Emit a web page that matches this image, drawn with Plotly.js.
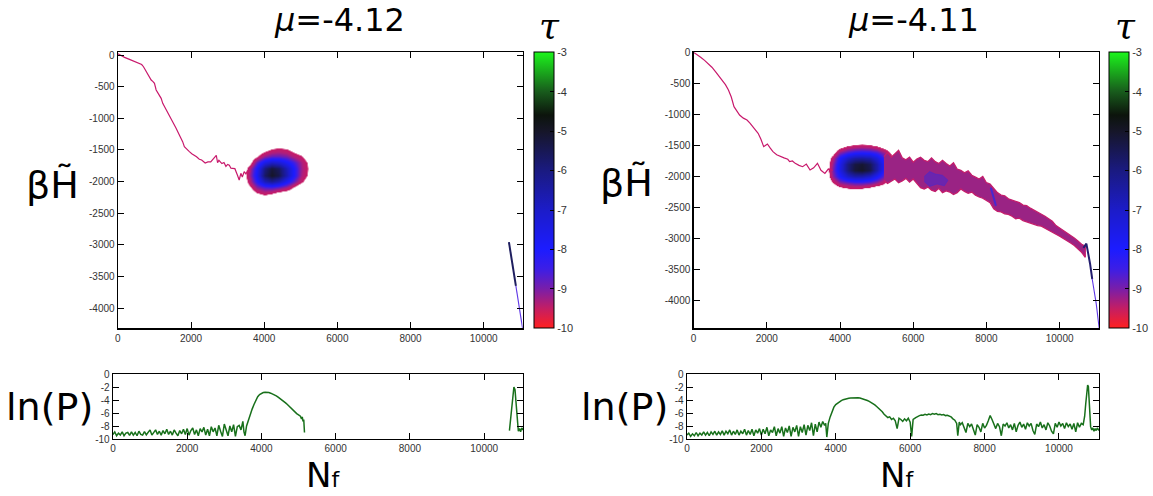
<!DOCTYPE html>
<html><head><meta charset="utf-8">
<script src="https://cdn.plot.ly/plotly-3.0.1.min.js"></script>
<style>html,body{margin:0;padding:0;background:#fff}#chart{width:1153px;height:496px}</style>
</head><body><div id="chart"></div>
<script>
// ---------- tick values / labels ----------
const X_TICKS = [0, 2000, 4000, 6000, 8000, 10000];
const MAIN_Y_TICKS = [0, -500, -1000, -1500, -2000, -2500, -3000, -3500, -4000];
const LNP_Y_TICKS = [0, -2, -4, -6, -8, -10];
const TAU_TICKS = [-3, -4, -5, -6, -7, -8, -9, -10];

// ---------- left panel (mu = -4.12) : trajectory ----------
const TRAJ1_X = [0, 90, 183, 300, 409, 500, 591, 650, 700, 740, 774, 840, 910, 960, 1000, 1046, 1110, 1183, 1226, 1270, 1319, 1390, 1455, 1520, 1591, 1660, 1728, 1770, 1817, 1880, 1954, 2020, 2090, 2150, 2226, 2290, 2386, 2460, 2538, 2600, 2640, 2690, 2725, 2761, 2843, 2900, 2953, 3000, 3046, 3090, 3134, 3198, 3269, 3316, 3362, 3401, 3453, 3500, 3550, 3620];
const TRAJ1_Y = [20, -10, -37, -65, -90, -112, -132, -150, -185, -225, -263, -330, -395, -420, -448, -553, -620, -685, -764, -810, -870, -940, -1001, -1070, -1159, -1240, -1317, -1370, -1450, -1490, -1528, -1560, -1581, -1610, -1649, -1660, -1707, -1690, -1691, -1650, -1622, -1585, -1703, -1664, -1717, -1700, -1760, -1730, -1744, -1790, -1792, -1797, -1902, -1976, -1870, -1929, -1845, -1880, -1830, -1850];
// density blob (tau values on a coarse grid)
const BLOB1_X = [3400, 3600, 3800, 4000, 4200, 4400, 4600, 4800, 5000, 5200, 5400];
const BLOB1_Y = [-1400, -1500, -1600, -1700, -1800, -1900, -2000, -2100, -2200, -2300];
const BLOB1_Z = [
  [-11, -11, -11, -11, -11, -11, -11, -11, -11, -11, -11],
  [-11, -11, -11, -10.5, -10, -9.8, -10, -10.5, -11, -11, -11],
  [-11, -11, -10.2, -9.2, -8.8, -8.8, -9.0, -9.5, -9.9, -10.8, -11],
  [-11, -10.5, -8.8, -7.5, -7.0, -7.2, -7.8, -8.5, -9.3, -10.3, -11],
  [-11, -9.5, -8.0, -6.0, -5.2, -5.6, -6.8, -8.0, -9.2, -10.2, -11],
  [-10.8, -9.3, -7.8, -5.7, -5.0, -5.4, -6.7, -8.0, -9.3, -10.3, -11],
  [-11, -9.6, -8.2, -6.8, -6.3, -6.8, -7.8, -8.8, -9.8, -10.8, -11],
  [-11, -10.3, -9.2, -8.7, -8.6, -8.9, -9.4, -10.2, -11, -11, -11],
  [-11, -11, -10.4, -10.0, -10.3, -10.8, -11, -11, -11, -11, -11],
  [-11, -11, -11, -11, -11, -11, -11, -11, -11, -11, -11]
];
// short branch at large N_f
const END1_DARK_X = [10690, 10880];
const END1_DARK_Y = [-2959, -3650];
const END1_THIN_X = [10880, 11066];
const END1_THIN_Y = [-3650, -4333];

// ---------- right panel (mu = -4.11) ----------
const TRAJ2_X = [0, 60, 193, 300, 395, 500, 598, 700, 800, 870, 952, 1030, 1104, 1180, 1256, 1360, 1459, 1540, 1611, 1690, 1763, 1840, 1915, 1960, 2016, 2090, 2168, 2270, 2371, 2470, 2573, 2624, 2700, 2776, 2880, 2979, 3080, 3182, 3280, 3384, 3480, 3587, 3680, 3800];
const TRAJ2_Y = [0, -30, -81, -130, -177, -240, -311, -390, -472, -520, -607, -720, -875, -950, -1009, -1060, -1090, -1140, -1197, -1250, -1305, -1400, -1519, -1500, -1477, -1540, -1600, -1650, -1681, -1700, -1723, -1761, -1750, -1788, -1820, -1842, -1800, -1895, -1860, -1788, -1900, -1949, -1880, -1900];
const BLOB2_X = [3600, 3800, 4000, 4200, 4400, 4600, 4800, 5000, 5200, 5400, 5600];
const BLOB2_Y = [-1400, -1500, -1600, -1700, -1800, -1900, -2000, -2100, -2200, -2300];
const BLOB2_Z = [
  [-11, -11, -11, -11, -11, -11, -11, -11, -11, -11, -11],
  [-11, -11, -10.8, -10.2, -10.0, -9.9, -10.0, -10.3, -10.8, -11, -11],
  [-11, -10.6, -9.2, -8.6, -8.3, -8.2, -8.3, -8.6, -9.3, -10.4, -11],
  [-11, -9.6, -8.0, -7.0, -6.5, -6.4, -6.6, -7.3, -8.4, -9.8, -11],
  [-11, -9.2, -7.6, -6.0, -5.3, -5.1, -5.5, -6.6, -8.0, -9.6, -10.8],
  [-10.8, -9.0, -7.5, -6.0, -5.2, -5.0, -5.4, -6.6, -8.1, -9.6, -10.8],
  [-11, -9.2, -8.0, -7.0, -6.6, -6.6, -7.0, -7.8, -8.8, -10.0, -11],
  [-11, -10.2, -9.3, -9.0, -8.8, -8.8, -9.0, -9.4, -10.0, -11, -11],
  [-11, -11, -10.6, -10.3, -10.2, -10.3, -10.6, -11, -11, -11, -11],
  [-11, -11, -11, -11, -11, -11, -11, -11, -11, -11, -11]
];
// noisy band after the blob: upper / lower envelope
const BAND2_X = [5200, 5300, 5400, 5500, 5600, 5700, 5800, 5900, 6000, 6100, 6200, 6300, 6400, 6500, 6600, 6700, 6800, 6900, 7000, 7100, 7200, 7300, 7400, 7500, 7600, 7700, 7800, 7900, 8000, 8100, 8200, 8300, 8400, 8500, 8600, 8700, 8800, 8900, 9000, 9100, 9200, 9300, 9400, 9500, 9600, 9700, 9800, 9900, 10000, 10100, 10200, 10300, 10400, 10500, 10600, 10700];
const BAND2_TOP = [-1680, -1610, -1690, -1640, -1580, -1700, -1730, -1690, -1770, -1720, -1690, -1740, -1760, -1700, -1760, -1790, -1740, -1790, -1830, -1780, -1880, -1900, -1940, -1910, -1980, -2010, -2040, -2000, -2100, -2120, -2200, -2260, -2300, -2310, -2360, -2380, -2410, -2420, -2460, -2470, -2510, -2540, -2570, -2600, -2640, -2680, -2720, -2790, -2830, -2860, -2900, -2950, -2990, -3040, -3090, -3120];
const BAND2_BOT = [-2060, -2110, -2080, -2040, -2100, -2070, -2030, -2090, -2040, -2110, -2180, -2200, -2170, -2220, -2240, -2190, -2260, -2230, -2250, -2290, -2260, -2200, -2240, -2270, -2250, -2300, -2330, -2350, -2380, -2420, -2520, -2560, -2570, -2600, -2610, -2640, -2680, -2670, -2710, -2730, -2740, -2770, -2790, -2800, -2830, -2870, -2900, -2930, -2960, -2990, -3030, -3070, -3110, -3160, -3220, -3300];
const PATCH2_X = [6300, 6450, 6600, 6800, 6950, 6850, 6650, 6450, 6300];
const PATCH2_Y = [-2000, -1920, -1960, -1980, -2060, -2150, -2120, -2160, -2080];
const STREAK2_X = [8120, 8200, 8260];
const STREAK2_Y = [-2180, -2350, -2470];
const END2_DARK_X = [10650, 10730, 10830, 10890];
const END2_DARK_Y = [-3150, -3080, -3400, -3650];
const END2_THIN_X = [10890, 11000, 11080];
const END2_THIN_Y = [-3650, -4050, -4444];

// ---------- ln(P) curves ----------
const LNP1_X = [0,50,100,150,200,250,300,350,400,450,500,550,600,650,700,750,800,850,900,950,1000,1050,1100,1150,1200,1250,1300,1350,1400,1450,1500,1550,1600,1650,1700,1750,1800,1850,1900,1950,2000,2050,2100,2150,2200,2250,2300,2350,2400,2450,2500,2550,2600,2650,2700,2750,2800,2850,2900,2950,3000,3050,3100,3150,3200,3250,3300,3350,3400,3450,3500,3530,3560,3600,3650,3700,3750,3800,3850,3900,3950,4000,4050,4100,4150,4200,4250,4300,4350,4400,4450,4500,4550,4600,4650,4700,4750,4800,4850,4900,4950,5000,5050,5080,5100,5120,5140,5160,
  7000,
  10680,10720,10750,10780,10800,10830,10860,10890,10920,10950,10980,11010,11040,11070];
const LNP1_Y = [-9.3,-8.9,-9.5,-9.1,-9.4,-8.9,-9.5,-9.1,-9.0,-9.45,-8.9,-9.4,-9.0,-9.5,-8.8,-9.3,-9.4,-8.85,-9.35,-8.9,-8.6,-9.4,-8.9,-8.6,-9.3,-8.8,-9.4,-8.7,-9.2,-8.5,-9.3,-8.8,-9.4,-8.6,-9.1,-9.5,-8.7,-9.2,-8.5,-9.3,-8.4,-9.4,-8.7,-8.3,-9.3,-8.6,-9.5,-8.4,-8.9,-8.2,-9.4,-8.5,-9.5,-8.1,-8.9,-8.3,-9.5,-7.9,-8.8,-9.6,-7.7,-8.7,-9.5,-8.0,-8.9,-7.8,-9.6,-8.1,-7.9,-8.6,-7.3,-8.9,-9.5,-8.0,-7.0,-6.2,-5.4,-4.7,-4.0,-3.5,-3.15,-2.95,-2.85,-2.8,-2.8,-2.85,-2.95,-3.05,-3.2,-3.35,-3.55,-3.75,-3.95,-4.2,-4.45,-4.7,-5.0,-5.3,-5.65,-5.95,-6.1,-6.3,-6.5,-6.9,-6.6,-7.3,-7.0,-9.0,
  null,
  -8.7,-6.5,-4.0,-2.3,-2.0,-2.4,-4.5,-7.5,-8.8,-8.4,-8.9,-8.3,-8.6,-8.2];

const LNP2_X = [0,50,100,150,200,250,300,350,400,450,500,550,600,650,700,750,800,850,900,950,1000,1050,1100,1150,1200,1250,1300,1350,1400,1450,1500,1550,1600,1650,1700,1750,1800,1850,1900,1950,2000,2050,2100,2150,2200,2250,2300,2350,2400,2450,2500,2550,2600,2650,2700,2750,2800,2850,2900,2950,3000,3050,3100,3150,3200,3250,3300,3350,3400,3450,3500,3550,3600,3650,3700,3730,3760,
  3800,3850,3900,3950,4000,4050,4100,4150,4200,4250,4300,4350,4400,4450,4500,4550,4600,4650,4700,4750,4800,4850,4900,4950,5000,5050,5100,5150,5200,5250,5300,5350,5400,5450,5500,5550,5600,5650,5700,5750,5800,5850,5900,5950,6000,6040,6080,6150,6200,6250,6300,6350,6400,6450,6500,6550,6600,6650,6700,6750,6800,6850,6900,6950,7000,7050,7100,7150,7200,7250,7280,7320,7350,
  7400,7450,7500,7550,7600,7650,7700,7750,7800,7850,7900,7950,8000,8050,8100,8150,8200,8250,8300,8350,8400,8450,8500,8550,8600,8650,8700,8750,8800,8850,8900,8950,9000,9050,9100,9150,9200,9250,9300,9350,9400,9450,9500,9550,9600,9650,9700,9750,9800,9850,9900,9950,10000,10050,10100,10150,10200,10250,10300,10350,10400,10450,10500,10550,10600,10650,
  10690,10720,10740,10770,10790,10810,10830,10850,10880,10910,10940,10970,11000,11030,11060,11080];
const LNP2_Y = [-9.4,-9.1,-9.6,-9.2,-9.5,-9.0,-9.5,-9.1,-9.4,-8.9,-9.4,-9.0,-9.5,-8.9,-9.3,-8.8,-9.4,-8.9,-9.3,-8.75,-9.4,-8.8,-9.2,-8.6,-9.4,-8.8,-9.3,-8.6,-9.4,-8.8,-9.2,-8.5,-9.4,-8.7,-9.3,-8.5,-9.5,-8.6,-9.1,-8.4,-9.4,-8.5,-9.2,-8.2,-9.5,-8.6,-9.0,-8.1,-9.5,-8.4,-9.1,-8.1,-9.6,-8.3,-9.0,-8.0,-9.6,-8.2,-8.9,-7.9,-9.6,-8.1,-9.0,-7.8,-9.4,-7.9,-8.7,-7.5,-9.5,-7.7,-8.9,-7.4,-8.2,-7.3,-7.9,-7.6,-9.7,
  -7.6,-6.6,-5.7,-5.1,-4.7,-4.45,-4.25,-4.1,-3.95,-3.85,-3.78,-3.72,-3.68,-3.65,-3.63,-3.63,-3.65,-3.68,-3.75,-3.85,-3.95,-4.07,-4.2,-4.35,-4.55,-4.75,-5.0,-5.25,-5.5,-5.8,-6.2,-6.5,-6.7,-6.6,-7.0,-6.8,-7.2,-8.4,-6.8,-7.0,-7.3,-6.9,-7.2,-6.8,-7.4,-9.6,-7.0,-6.7,-6.5,-6.4,-6.3,-6.35,-6.2,-6.3,-6.15,-6.25,-6.1,-6.2,-6.1,-6.25,-6.2,-6.3,-6.25,-6.4,-6.35,-6.5,-6.6,-6.9,-7.1,-7.6,-9.5,-7.4,-7.8,
  -7.5,-8.2,-9.0,-7.6,-8.1,-7.7,-8.4,-9.4,-7.8,-8.2,-8.9,-7.6,-8.3,-7.9,-7.2,-6.4,-7.0,-7.8,-8.4,-7.6,-8.1,-9.5,-7.7,-8.0,-7.5,-8.3,-7.8,-8.6,-7.6,-8.9,-7.9,-7.4,-8.2,-7.7,-8.5,-7.5,-8.0,-7.6,-8.7,-9.3,-7.7,-8.1,-7.4,-8.3,-7.8,-8.6,-7.5,-8.0,-8.8,-9.2,-7.6,-8.2,-7.4,-8.0,-7.6,-8.4,-7.5,-8.1,-7.7,-8.5,-7.6,-8.9,-7.5,-8.2,-7.6,-7.8,
  -6.5,-4.5,-2.8,-1.7,-1.9,-3.5,-6.0,-8.1,-8.6,-8.3,-8.8,-8.4,-8.7,-8.3,-8.6,-8.5];

// ---------- colours ----------
const TAU_SCALE = [
  [0, 'rgb(255,32,32)'], [0.0714, 'rgb(195,30,100)'], [0.1429, 'rgb(120,30,170)'],
  [0.2143, 'rgb(60,30,230)'], [0.2857, 'rgb(28,28,255)'], [0.4286, 'rgb(28,28,200)'],
  [0.5714, 'rgb(26,26,128)'], [0.7143, 'rgb(22,22,40)'], [0.7714, 'rgb(12,20,12)'],
  [0.8571, 'rgb(24,92,28)'], [1, 'rgb(28,245,28)']
];
const BLOB_SCALE = [
  [0, 'rgba(200,24,100,0)'], [0.108, 'rgba(200,24,100,0)'], [0.118, 'rgb(200,26,100)'],
  [0.1875, 'rgb(180,30,120)'], [0.25, 'rgb(120,30,170)'], [0.3125, 'rgb(60,30,230)'],
  [0.375, 'rgb(28,28,255)'], [0.5, 'rgb(28,28,200)'], [0.625, 'rgb(26,26,128)'],
  [0.75, 'rgb(22,22,40)'], [0.8, 'rgb(12,20,12)'], [0.875, 'rgb(24,92,28)'], [1, 'rgb(28,245,28)']
];
const TRAJ_COLOR = '#c8196c';
const LNP_COLOR = '#18701b';

// ---------- helpers ----------
const W = 1153, H = 496;
const px = v => v / W;
const py = v => 1 - v / H;
const TICKFONT = {family: 'Liberation Sans, Arial, sans-serif', size: 10, color: '#333'};
function axis(extra) {
  return Object.assign({
    showline: true, linecolor: '#000', linewidth: 1.3, mirror: 'allticks',
    ticks: 'inside', ticklen: 6, tickwidth: 1, tickcolor: '#000',
    showgrid: false, zeroline: false, tickfont: TICKFONT, fixedrange: true
  }, extra);
}
const txt = a => a.map(v => String(v));

const traces = [];
function mainPanel(xa, ya, trajX, trajY, bx, by, bz, cbX) {
  traces.push({type: 'heatmap', x: bx, y: by, z: bz, zsmooth: 'best', zmin: -11, zmax: -3,
    colorscale: BLOB_SCALE, showscale: false, hoverinfo: 'skip', xaxis: xa, yaxis: ya});
  traces.push({type: 'scatter', mode: 'lines', x: trajX, y: trajY, xaxis: xa, yaxis: ya,
    line: {color: TRAJ_COLOR, width: 1.2}, hoverinfo: 'skip', showlegend: false});
  traces.push({type: 'scatter', mode: 'markers', x: [null], y: [null], xaxis: xa, yaxis: ya,
    showlegend: false, hoverinfo: 'skip',
    marker: {color: [-10], cmin: -10, cmax: -3, colorscale: TAU_SCALE, showscale: true,
      colorbar: {x: px(cbX), xanchor: 'left', xpad: 0, ypad: 0, thickness: 20,
        lenmode: 'pixels', len: 276, y: py(190.3), yanchor: 'middle',
        outlinewidth: 1, outlinecolor: '#000',
        tickvals: TAU_TICKS, ticktext: txt(TAU_TICKS), ticks: 'inside', ticklen: 4,
        tickcolor: '#000', tickfont: {family: 'Liberation Sans, Arial, sans-serif', size: 11, color: '#333'}}}});
}
mainPanel('x', 'y', TRAJ1_X, TRAJ1_Y, BLOB1_X, BLOB1_Y, BLOB1_Z, 535.8);
mainPanel('x2', 'y2', TRAJ2_X, TRAJ2_Y, BLOB2_X, BLOB2_Y, BLOB2_Z, 1113);

// left branch near the end
traces.push({type: 'scatter', mode: 'lines', x: END1_DARK_X, y: END1_DARK_Y, xaxis: 'x', yaxis: 'y',
  line: {color: 'rgb(30,30,95)', width: 2}, hoverinfo: 'skip', showlegend: false});
traces.push({type: 'scatter', mode: 'lines', x: END1_THIN_X, y: END1_THIN_Y, xaxis: 'x', yaxis: 'y',
  line: {color: 'rgb(95,55,230)', width: 1.1}, hoverinfo: 'skip', showlegend: false});
// right band
traces.push({type: 'scatter', mode: 'lines', fill: 'toself', xaxis: 'x2', yaxis: 'y2',
  x: BAND2_X.concat(BAND2_X.slice().reverse()), y: BAND2_TOP.concat(BAND2_BOT.slice().reverse()),
  line: {color: '#c41e6c', width: 1.3}, fillcolor: '#9a2384', hoverinfo: 'skip', showlegend: false});
traces.push({type: 'scatter', mode: 'lines', fill: 'toself', xaxis: 'x2', yaxis: 'y2',
  x: PATCH2_X, y: PATCH2_Y, line: {color: 'rgba(70,40,210,0.5)', width: 1},
  fillcolor: 'rgba(70,40,210,0.55)', hoverinfo: 'skip', showlegend: false});
traces.push({type: 'scatter', mode: 'lines', x: STREAK2_X, y: STREAK2_Y, xaxis: 'x2', yaxis: 'y2',
  line: {color: 'rgb(70,40,210)', width: 2}, hoverinfo: 'skip', showlegend: false});
traces.push({type: 'scatter', mode: 'lines', x: END2_DARK_X, y: END2_DARK_Y, xaxis: 'x2', yaxis: 'y2',
  line: {color: 'rgb(35,30,110)', width: 2}, hoverinfo: 'skip', showlegend: false});
traces.push({type: 'scatter', mode: 'lines', x: END2_THIN_X, y: END2_THIN_Y, xaxis: 'x2', yaxis: 'y2',
  line: {color: 'rgb(95,55,230)', width: 1.1}, hoverinfo: 'skip', showlegend: false});
// ln(P)
traces.push({type: 'scatter', mode: 'lines', x: LNP1_X, y: LNP1_Y, xaxis: 'x3', yaxis: 'y3',
  line: {color: LNP_COLOR, width: 1.5}, connectgaps: false, hoverinfo: 'skip', showlegend: false});
traces.push({type: 'scatter', mode: 'lines', x: LNP2_X, y: LNP2_Y, xaxis: 'x4', yaxis: 'y4',
  line: {color: LNP_COLOR, width: 1.5}, hoverinfo: 'skip', showlegend: false});

const mainY = {tickvals: MAIN_Y_TICKS, ticktext: txt(MAIN_Y_TICKS)};
const mainX = {tickvals: X_TICKS, ticktext: txt(X_TICKS)};
const lnpY = {tickvals: LNP_Y_TICKS, ticktext: txt(LNP_Y_TICKS), range: [-10, 0]};

const bigFont = {family: 'DejaVu Sans, sans-serif', size: 32, color: '#000'};
const labFont = {family: 'DejaVu Sans, sans-serif', size: 38, color: '#000'};
const nfFont = {family: 'DejaVu Sans, sans-serif', size: 34, color: '#000'};
const tauFont = {family: 'DejaVu Serif, serif', size: 36, color: '#000'};
function ann(text, x, y, font) {
  return {text: text, x: px(x), y: py(y), xref: 'paper', yref: 'paper', showarrow: false,
    xanchor: 'center', yanchor: 'middle', font: font};
}

const layout = {
  width: W, height: H, margin: {l: 0, r: 0, t: 0, b: 0},
  paper_bgcolor: '#fff', plot_bgcolor: '#fff', showlegend: false,
  xaxis: axis(Object.assign({domain: [px(118.3), px(524.5)], range: [0, 11066], anchor: 'y'}, mainX)),
  yaxis: axis(Object.assign({domain: [py(328.3), py(52.3)], range: [-4321, 43], anchor: 'x'}, mainY)),
  xaxis2: axis(Object.assign({domain: [px(696), px(1103)], range: [0, 11080], anchor: 'y2'}, mainX)),
  yaxis2: axis(Object.assign({domain: [py(328.3), py(52.3)], range: [-4444, 0], anchor: 'x2'}, mainY)),
  xaxis3: axis(Object.assign({domain: [px(113.3), px(525)], range: [0, 11050], anchor: 'y3'}, mainX)),
  yaxis3: axis(Object.assign({domain: [py(439), py(374)], anchor: 'x3'}, lnpY)),
  xaxis4: axis(Object.assign({domain: [px(689.3), px(1103)], range: [0, 11080], anchor: 'y4'}, mainX)),
  yaxis4: axis(Object.assign({domain: [py(439), py(374)], anchor: 'x4'}, lnpY)),
  annotations: [
    ann('<i>\u03bc</i>=-4.12', 341, 20, bigFont),
    ann('<i>\u03bc</i>=-4.11', 917, 20, bigFont),
    ann('<i>\u03c4</i>', 551, 25, tauFont),
    ann('<i>\u03c4</i>', 1129, 25, tauFont),
    ann('\u03b2H\u0303', 53, 185, labFont),
    ann('\u03b2H\u0303', 629, 183, labFont),
    ann('ln(P)', 50, 407, labFont),
    ann('ln(P)', 627, 407, labFont),
    ann('N<span style="font-size:22px">f</span>', 324, 475, nfFont),
    ann('N<span style="font-size:22px">f</span>', 900, 475, nfFont)
  ]
};

Plotly.newPlot('chart', traces, layout, {staticPlot: true, displayModeBar: false});
</script></body></html>
